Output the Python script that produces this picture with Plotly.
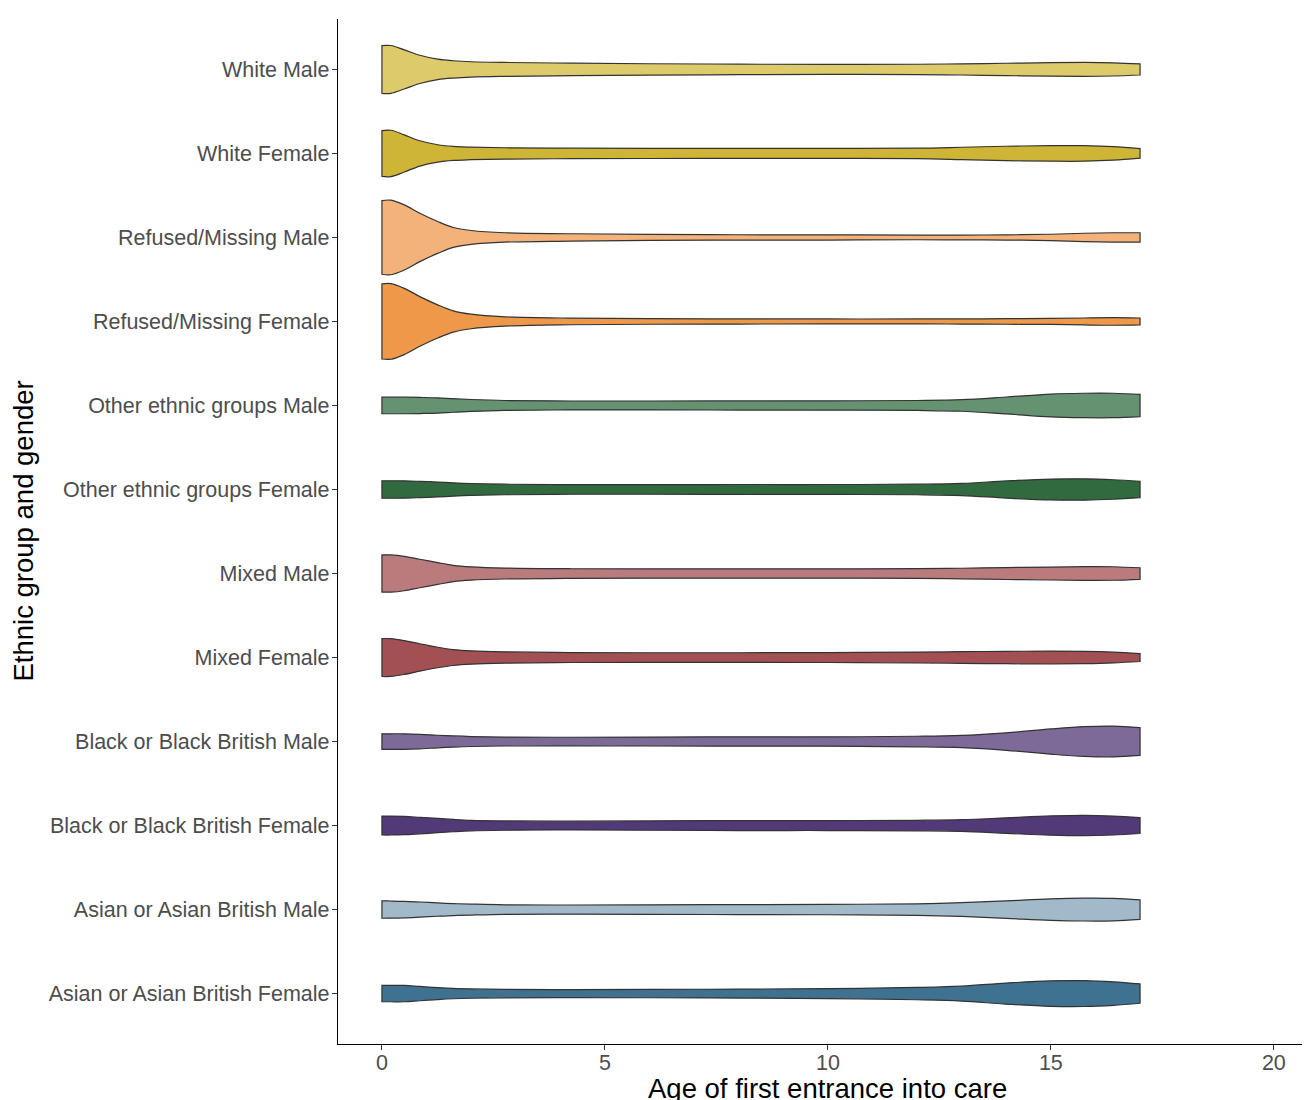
import plotly.graph_objects as go

# Age grid (years) at which violin densities were read
age_grid = [0, 0.2, 0.5, 0.85, 1.25, 1.6, 2, 2.75, 4.25, 6, 8, 10, 12, 13, 14, 15, 15.75, 16.4, 17]

# Category labels, bottom to top
categories = [
    "Asian or Asian British Female",
    "Asian or Asian British Male",
    "Black or Black British Female",
    "Black or Black British Male",
    "Mixed Female",
    "Mixed Male",
    "Other ethnic groups Female",
    "Other ethnic groups Male",
    "Refused/Missing Female",
    "Refused/Missing Male",
    "White Female",
    "White Male",
]

# Relative density (violin half-width) per category along age_grid
dens_asian_female = [8.2, 8.2, 8.2, 7.2, 6.0, 5.2, 4.7, 4.3, 4.0, 4.2, 4.5, 5.0, 6.2, 7.5, 10.6, 12.8, 13.0, 11.8, 9.7]
dens_asian_male = [8.7, 8.6, 8.3, 7.6, 6.7, 6.0, 5.5, 4.8, 4.6, 4.8, 5.0, 5.2, 5.8, 6.9, 8.8, 10.8, 11.5, 11.3, 9.8]
dens_black_female = [9.5, 9.5, 9.2, 8.3, 7.2, 6.2, 5.3, 4.7, 4.4, 4.7, 5.0, 5.0, 5.3, 5.9, 7.8, 9.7, 10.2, 9.5, 8.0]
dens_black_male = [7.8, 7.8, 7.8, 7.3, 6.3, 5.6, 5.0, 4.5, 4.3, 4.5, 4.7, 4.7, 5.3, 6.2, 8.8, 12.7, 15.0, 15.5, 14.0]
dens_mixed_female = [19.0, 19.0, 17.0, 13.7, 10.3, 8.0, 6.7, 5.7, 5.0, 4.8, 4.8, 5.0, 5.5, 5.9, 6.2, 6.5, 6.2, 5.4, 4.0]
dens_mixed_male = [18.7, 18.7, 17.3, 14.3, 11.0, 8.2, 6.7, 5.5, 4.8, 4.7, 4.7, 4.7, 4.9, 5.3, 6.0, 6.5, 6.9, 6.8, 5.8]
dens_other_female = [8.8, 8.8, 8.7, 8.2, 7.5, 6.7, 6.0, 5.3, 4.8, 4.8, 5.0, 5.0, 5.3, 6.1, 8.6, 10.5, 10.7, 9.8, 8.2]
dens_other_male = [8.3, 8.3, 8.3, 8.1, 7.7, 6.8, 6.0, 5.0, 4.5, 4.5, 4.6, 4.7, 5.0, 5.8, 8.5, 11.5, 12.3, 12.3, 11.2]
dens_refused_female = [37.7, 38.0, 33.3, 25.0, 16.7, 10.7, 7.3, 4.7, 3.3, 2.8, 2.6, 2.5, 2.5, 2.6, 2.8, 3.0, 3.5, 3.8, 3.5]
dens_refused_male = [37.0, 37.5, 32.7, 24.3, 16.0, 10.0, 7.0, 4.7, 3.7, 3.0, 2.7, 2.6, 2.3, 2.4, 2.6, 3.2, 4.2, 4.7, 4.7]
dens_white_female = [23.0, 23.3, 18.7, 12.7, 8.7, 7.0, 6.3, 5.7, 5.3, 5.1, 5.0, 5.0, 5.3, 6.2, 7.2, 7.8, 7.8, 6.8, 4.8]
dens_white_male = [24.0, 24.0, 19.7, 14.2, 10.3, 8.7, 7.7, 7.0, 6.3, 5.7, 5.3, 5.0, 5.2, 5.6, 6.2, 6.8, 7.0, 6.6, 5.6]

densities = [
    dens_asian_female, dens_asian_male, dens_black_female, dens_black_male,
    dens_mixed_female, dens_mixed_male, dens_other_female, dens_other_male,
    dens_refused_female, dens_refused_male, dens_white_female, dens_white_male,
]

colors = [
    "#3F7191", "#A1B9C9", "#523A78", "#7D6A99",
    "#A35055", "#B97B7C", "#316A3F", "#659270",
    "#EE984A", "#F3B27A", "#CFB535", "#DDCA6B",
]

x_ticks = [0, 5, 10, 15, 20]

max_d = max(max(d) for d in densities)
half = 0.45 / max_d

fig = go.Figure()
for i, (name, dens, col) in enumerate(zip(categories, densities, colors)):
    c = i + 1
    up = [(a, c + d * half) for a, d in zip(age_grid, dens)]
    lo = [(a, c - d * half) for a, d in zip(age_grid, dens)][::-1]
    pts = [lo[-1], up[0]] + up + [up[-1], lo[0]] + lo + [lo[-1]]
    fig.add_trace(go.Scatter(
        x=[p[0] for p in pts], y=[p[1] for p in pts],
        mode="lines", fill="toself", fillcolor=col,
        line=dict(color="#333333", width=1.2, shape="spline", smoothing=1.0),
        name=name, showlegend=False, hoverinfo="name",
    ))

font_family = "Liberation Sans, Arial, sans-serif"

fig.update_layout(
    width=1310, height=1100,
    margin=dict(l=330, r=0, t=11, b=64),
    plot_bgcolor="white", paper_bgcolor="white",
    font=dict(family=font_family),
    xaxis=dict(
        range=[-0.985, 20.99], tickvals=x_ticks, ticktext=[str(t) for t in x_ticks],
        showline=True, linecolor="black", linewidth=1.3, showgrid=False, zeroline=False,
        ticks="outside", ticklen=5, tickcolor="#333333", tickwidth=1.1,
        ticklabelstandoff=-6,
        tickfont=dict(size=21.5, color="#4D4D4D", family=font_family),
    ),
    yaxis=dict(
        range=[0.4, 12.6], tickvals=list(range(1, 13)), ticktext=categories,
        showline=True, linecolor="black", linewidth=1.3, showgrid=False, zeroline=False,
        ticks="outside", ticklen=5, tickcolor="#333333", tickwidth=1.1,
        ticklabelstandoff=-2,
        tickfont=dict(size=21.5, color="#4D4D4D", family=font_family),
    ),
    annotations=[
        dict(text="Age of first entrance into care", xref="x", yref="paper",
             x=10, y=0, yanchor="middle", xanchor="center", yshift=-44,
             showarrow=False, font=dict(size=27.5, color="black", family=font_family)),
        dict(text="Ethnic group and gender", xref="paper", yref="paper",
             x=0, y=0.5, xanchor="center", yanchor="middle", xshift=-315,
             textangle=-90, showarrow=False,
             font=dict(size=27.5, color="black", family=font_family)),
    ],
)

fig.write_html("out.html")
